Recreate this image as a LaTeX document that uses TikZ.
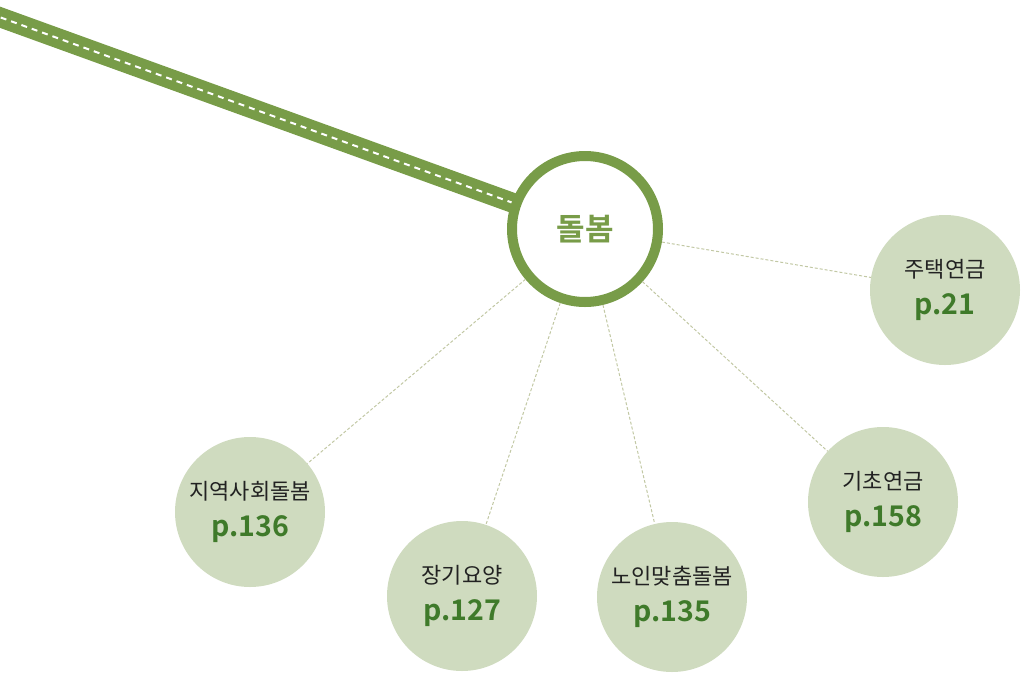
\documentclass[tikz,border=0pt]{standalone}
\usepackage{fontspec}
\setmainfont{Noto Sans CJK KR}
\newfontfamily\krbold{Noto Sans CJK KR Bold}
\definecolor{ringgreen}{HTML}{789C48}
\definecolor{pagegreen}{HTML}{3F7A2A}
\definecolor{leafbg}{HTML}{CFDBBF}
\definecolor{linkgray}{HTML}{C2C8A4}
\definecolor{labelink}{HTML}{222222}

\begin{document}
\begin{tikzpicture}[x=1pt,y=-1pt,
    hubnode/.style={circle,draw=ringgreen,line width=10pt,fill=white,minimum size=146pt,
        outer sep=5pt,inner sep=0pt,text=ringgreen,font=\krbold\fontsize{31}{34}\selectfont},
    leaf/.style={circle,fill=leafbg,minimum size=150pt,inner sep=0pt,align=center},
    linkline/.style={draw=linkgray,line width=1pt,dash pattern=on 3pt off 2pt}]
    \useasboundingbox (0,0) rectangle (1029,673);
    % road into the hub
    \coordinate (roadstart) at (-20,10);
    \coordinate (hub) at (585,229);
    \draw[ringgreen,line width=20pt] (roadstart) -- (hub);
    \draw[white,line width=2pt,dash pattern=on 6pt off 5pt] (roadstart) -- (hub);
    \node[hubnode] (care) at (hub) {돌봄};
    % topics
    \newcommand{\leaftext}[2]{{\fontsize{22}{24}\selectfont\color{labelink}#1}\\[14pt]{\krbold\fontsize{28.5}{30}\selectfont\color{pagegreen}#2}}
    \node[leaf] (housing) at (945,290) {\leaftext{주택연금}{p.21}};
    \node[leaf] (basic) at (883,502) {\leaftext{기초연금}{p.158}};
    \node[leaf] (community) at (250,512) {\leaftext{지역사회돌봄}{p.136}};
    \node[leaf] (longterm) at (462,596) {\leaftext{장기요양}{p.127}};
    \node[leaf] (custom) at (672,597) {\leaftext{노인맞춤돌봄}{p.135}};
    \foreach \n in {housing,basic,community,longterm,custom}
        \draw[linkline] (care) -- (\n);
\end{tikzpicture}
\end{document}
